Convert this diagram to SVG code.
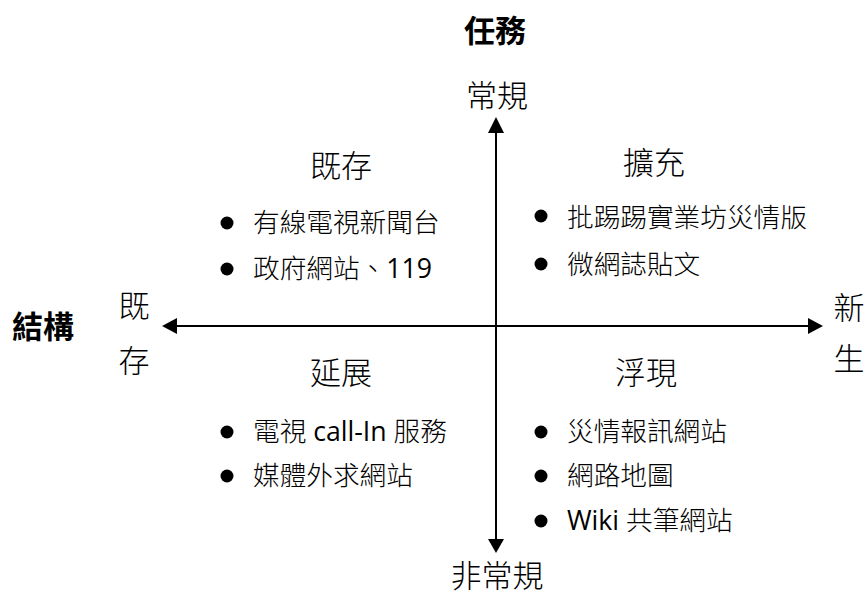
<svg xmlns="http://www.w3.org/2000/svg" width="865" height="599" viewBox="0 0 865 599">
<style>
text{font-family:"Open Sans","Noto Sans CJK TC",sans-serif;fill:#000;font-weight:300}
.t{font-size:31px;text-anchor:middle}
.b{font-weight:bold}
.i{font-size:26.67px}
.l{font-weight:400}
.axis{stroke:#000;stroke-width:2;fill:none}
.head{fill:#000}
.dot{fill:#000}
</style>
<rect width="865" height="599" fill="#fff"/>
<g id="connectors">
<line class="axis" x1="496" y1="132" x2="496" y2="540"/>
<polygon class="head" points="496,117 488,133 504,133"/>
<polygon class="head" points="496,553 488,539 504,539"/>
<line class="axis" x1="176" y1="326" x2="809" y2="326"/>
<polygon class="head" points="162,326 177,318 177,334"/>
<polygon class="head" points="823,326 808,318 808,334"/>
</g>
<g id="axis-task"><text class="t b" x="495" y="42">任務</text></g>
<g id="axis-structure"><text class="t b" x="43" y="338">結構</text></g>
<g id="label-routine"><text class="t" x="497" y="107">常規</text></g>
<g id="label-nonroutine"><text class="t" x="497" y="587">非常規</text></g>
<g id="label-existing"><text class="t" x="134" y="317">既</text><text class="t" x="134" y="372">存</text></g>
<g id="label-new"><text class="t" x="849" y="319">新</text><text class="t" x="849" y="370">生</text></g>
<g id="q-existing">
<text class="t" x="341" y="177">既存</text>
<circle class="dot" cx="227" cy="223" r="6.5"/>
<text class="i" x="253" y="232">有線電視新聞台</text>
<circle class="dot" cx="227" cy="269" r="6.5"/>
<text class="i" x="253" y="278">政府網站、<tspan class="l">119</tspan></text>
</g>
<g id="q-expand">
<text class="t" x="654" y="174">擴充</text>
<circle class="dot" cx="541" cy="216" r="6.5"/>
<text class="i" x="567" y="227">批踢踢實業坊災情版</text>
<circle class="dot" cx="541" cy="264" r="6.5"/>
<text class="i" x="567" y="274">微網誌貼文</text>
</g>
<g id="q-extend">
<text class="t" x="341" y="384">延展</text>
<circle class="dot" cx="227" cy="432" r="6.5"/>
<text class="i" x="253" y="441">電視 <tspan class="l">call-In</tspan> 服務</text>
<circle class="dot" cx="227" cy="476" r="6.5"/>
<text class="i" x="253" y="485">媒體外求網站</text>
</g>
<g id="q-emerge">
<text class="t" x="646" y="384">浮現</text>
<circle class="dot" cx="541" cy="432" r="6.5"/>
<text class="i" x="567" y="441">災情報訊網站</text>
<circle class="dot" cx="541" cy="476" r="6.5"/>
<text class="i" x="567" y="485">網路地圖</text>
<circle class="dot" cx="541" cy="521" r="6.5"/>
<text class="i" x="567" y="530"><tspan class="l">Wiki</tspan> 共筆網站</text>
</g>
</svg>
